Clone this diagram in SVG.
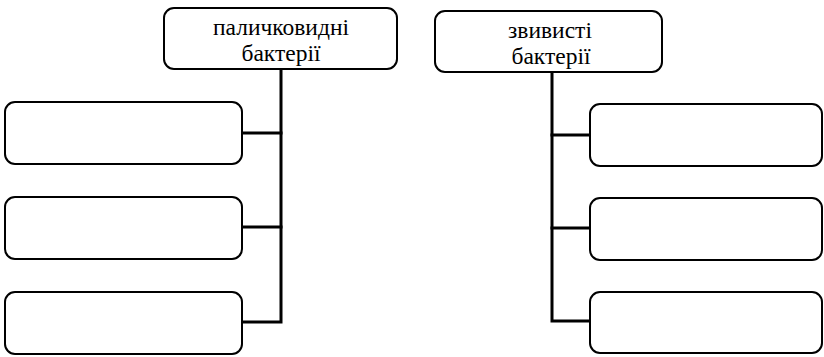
<svg xmlns="http://www.w3.org/2000/svg" width="824" height="357" viewBox="0 0 824 357">
<style>
.box{fill:#fff;stroke:#000;stroke-width:2}
.conn{fill:none;stroke:#000;stroke-width:3;stroke-linecap:square}
.lbl{font-family:'Liberation Serif','DejaVu Serif',serif;font-size:23.5px;fill:#000;text-anchor:middle}
</style>
<rect width="824" height="357" fill="#fff"/>
<g id="connectors">
<path class="conn" d="M281,69 V322 H242"/>
<path class="conn" d="M281,133 H242"/>
<path class="conn" d="M281,227 H242"/>
<path class="conn" d="M552,72 V321 H590"/>
<path class="conn" d="M552,135 H590"/>
<path class="conn" d="M552,228 H590"/>
</g>
<g id="node-rod">
<rect class="box" x="164" y="8" width="233" height="61" rx="10"/>
<text class="lbl" x="281" y="35">паличковидні</text>
<text class="lbl" x="281" y="61">бактерії</text>
</g>
<g id="node-spiral">
<rect class="box" x="435" y="11" width="227" height="61" rx="10"/>
<text class="lbl" x="550" y="38">звивисті</text>
<text class="lbl" x="551" y="64">бактерії</text>
</g>
<g id="node-l1"><rect class="box" x="5" y="102" width="237" height="62" rx="10"/></g>
<g id="node-l2"><rect class="box" x="5" y="197" width="237" height="62" rx="10"/></g>
<g id="node-l3"><rect class="box" x="5" y="292" width="237" height="62" rx="10"/></g>
<g id="node-r1"><rect class="box" x="590" y="104" width="232" height="62" rx="10"/></g>
<g id="node-r2"><rect class="box" x="590" y="198" width="232" height="62" rx="10"/></g>
<g id="node-r3"><rect class="box" x="590" y="292" width="232" height="61" rx="10"/></g>
</svg>
